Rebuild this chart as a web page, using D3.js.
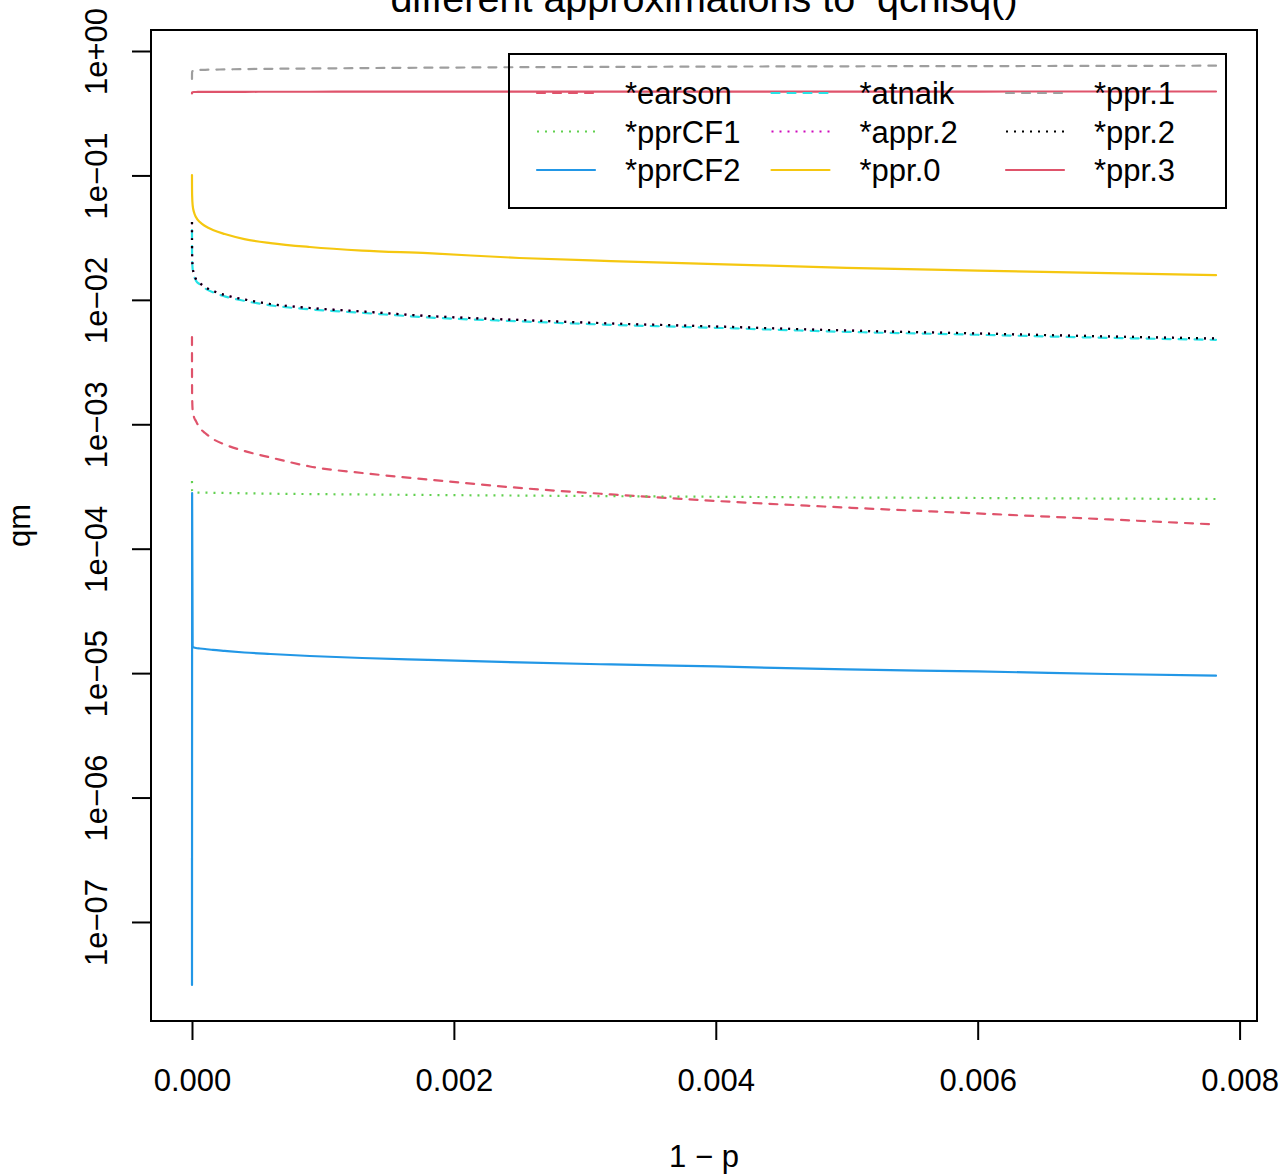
<!DOCTYPE html>
<html>
<head>
<meta charset="utf-8">
<script src="https://cdn.jsdelivr.net/npm/d3@7"></script>
<style>
  body { margin: 0; background: #fff; }
  svg { display: block; }
  text { font-family: "Liberation Sans", Arial, Helvetica, sans-serif; fill: #000; }
</style>
</head>
<body>
<div id="chart"></div>
<script>
// x values (1 - p)
const oneMinusP = [0, 2e-7, 1e-6, 5e-6, 1.5e-5, 3e-5, 6e-5, 1e-4, 1.6e-4, 2.5e-4, 4e-4, 6e-4, 9e-4,
    1.3e-3, 1.8e-3, 2.5e-3, 3.2e-3, 4e-3, 5e-3, 6e-3, 7e-3, 7.82e-3];

// qm for each approximation
const pearson = [0.00503, 0.00273, 0.00172, 0.001303, 0.001144, 0.001063, 0.000933, 0.000851, 0.000762,
    0.000688, 0.000610, 0.000541, 0.000458, 0.000406, 0.000360, 0.000308, 0.000273, 0.000242, 0.000214,
    0.000192, 0.000172, 0.0001565];
const pprCF1 = [3.50e-4, 3.08e-4, 2.91e-4, 2.856e-4, 2.841e-4, 2.830e-4, 2.825e-4, 2.820e-4, 2.815e-4,
    2.804e-4, 2.788e-4, 2.768e-4, 2.748e-4, 2.728e-4, 2.702e-4, 2.673e-4, 2.643e-4, 2.614e-4, 2.580e-4,
    2.556e-4, 2.528e-4, 2.509e-4];
const pprCF2 = [3.27e-7, 3.12e-8, 2.80e-4, 1.622e-5, 1.607e-5, 1.592e-5, 1.577e-5, 1.563e-5, 1.535e-5,
    1.507e-5, 1.465e-5, 1.425e-5, 1.373e-5, 1.323e-5, 1.276e-5, 1.218e-5, 1.174e-5, 1.131e-5, 1.070e-5,
    1.031e-5, 0.984e-5, 0.954e-5];
const patnaik = [0.0364, 0.0276, 0.0217, 0.0177, 0.0157, 0.01433, 0.01332, 0.01237, 0.01149, 0.01067,
    0.00982, 0.00903, 0.00839, 0.00786, 0.00723, 0.00672, 0.00630, 0.00596, 0.00553, 0.00524, 0.00495, 0.00477];
const appr2 = [0.0422, 0.0303, 0.0229, 0.0184, 0.0161, 0.0147, 0.01366, 0.01269, 0.01178, 0.01094,
    0.01007, 0.00926, 0.00860, 0.00806, 0.00742, 0.00689, 0.00646, 0.00611, 0.00567, 0.00537, 0.00508, 0.00489];
const ppr0 = [0.1008, 0.0838, 0.0696, 0.0578, 0.0508, 0.0463, 0.0422, 0.0392, 0.0364, 0.0338, 0.0308,
    0.0286, 0.0266, 0.0249, 0.0237, 0.0217, 0.0205, 0.0194, 0.0181, 0.0172, 0.0164, 0.0158];
const ppr1 = [0.5957, 0.6413, 0.6780, 0.6907, 0.6971, 0.7010, 0.7036, 0.7062, 0.7088, 0.7114, 0.7154,
    0.7193, 0.7235, 0.7288, 0.7342, 0.7410, 0.7452, 0.7493, 0.7535, 0.7563, 0.7592, 0.7620];
const ppr2 = [0.0422, 0.0303, 0.0229, 0.0184, 0.0161, 0.0147, 0.01366, 0.01269, 0.01178, 0.01094,
    0.01007, 0.00926, 0.00860, 0.00806, 0.00742, 0.00689, 0.00646, 0.00611, 0.00567, 0.00537, 0.00508, 0.00489];
const ppr3 = [0.4555, 0.4597, 0.4640, 0.4666, 0.4683, 0.4683, 0.4690, 0.4690, 0.4695, 0.4700, 0.4700,
    0.4705, 0.4705, 0.4710, 0.4710, 0.4715, 0.4718, 0.4720, 0.4722, 0.4724, 0.4726, 0.4727];

const seriesNames = ["*earson", "*pprCF1", "*pprCF2", "*atnaik", "*appr.2", "*ppr.0", "*ppr.1", "*ppr.2", "*ppr.3"];
const seriesValues = [pearson, pprCF1, pprCF2, patnaik, appr2, ppr0, ppr1, ppr2, ppr3];
const seriesColors = ["#DF536B", "#61D04F", "#2297E6", "#28E2E5", "#CD0BBC", "#F5C710", "#9E9E9E", "#000000", "#DF536B"];
const seriesLty = ["dashed", "dotted", "solid", "dashed", "dotted", "solid", "dashed", "dotted", "solid"];

const xTicks = [0, 0.002, 0.004, 0.006, 0.008];
const yTicks = [1, 1e-1, 1e-2, 1e-3, 1e-4, 1e-5, 1e-6, 1e-7];
const yTickLabels = ["1e+00", "1e\u221201", "1e\u221202", "1e\u221203", "1e\u221204", "1e\u221205", "1e\u221206", "1e\u221207"];

const width = 1284, height = 1176;
const plot = {left: 151, right: 1257, top: 30, bottom: 1021};

const svg = d3.select("#chart")
    .append("svg")
    .attr("width", width)
    .attr("height", height);

const x = d3.scaleLinear()
    .domain([-0.000313, 0.008133])
    .range([plot.left, plot.right]);
const y = d3.scaleLog()
    .domain([1.6e-8, 1.475])
    .range([plot.bottom, plot.top]);

const dash = {solid: null, dashed: "8,8", dotted: "2,6"};
const cap = {solid: "round", dashed: "round", dotted: "butt"};

// clip to the plot region
svg.append("clipPath").attr("id", "clip")
    .append("rect")
    .attr("x", plot.left).attr("y", plot.top)
    .attr("width", plot.right - plot.left).attr("height", plot.bottom - plot.top);

const line = d3.line()
    .x((d, i) => x(oneMinusP[i]))
    .y(d => y(d))
    .curve(d3.curveMonotoneX);

svg.append("g")
    .attr("clip-path", "url(#clip)")
    .selectAll("path")
    .data(seriesValues)
    .enter().append("path")
    .attr("d", d => line(d))
    .attr("fill", "none")
    .attr("stroke", (d, i) => seriesColors[i])
    .attr("stroke-width", 2.2)
    .attr("stroke-linecap", (d, i) => cap[seriesLty[i]])
    .attr("stroke-linejoin", "round")
    .attr("stroke-dasharray", (d, i) => dash[seriesLty[i]]);

// x axis
const xAxis = svg.append("g")
    .attr("transform", `translate(0,${plot.bottom})`)
    .call(d3.axisBottom(x).tickValues(xTicks).tickFormat(d3.format(".3f")).tickSize(19));
xAxis.select(".domain").remove();
xAxis.selectAll("line").attr("stroke", "#000").attr("stroke-width", 2);
xAxis.selectAll("text")
    .attr("y", 70).attr("dy", 0)
    .style("font-size", "31px")
    .style("font-family", "'Liberation Sans', Arial, sans-serif");

// y axis
const yAxis = svg.append("g")
    .attr("transform", `translate(${plot.left},0)`)
    .call(d3.axisLeft(y).tickValues(yTicks).tickFormat((d, i) => yTickLabels[i]).tickSize(19));
yAxis.select(".domain").remove();
yAxis.selectAll("line").attr("stroke", "#000").attr("stroke-width", 2);
yAxis.selectAll("text")
    .attr("x", 0).attr("y", 0).attr("dy", 0)
    .attr("text-anchor", "middle")
    .attr("transform", "translate(-44,0) rotate(-90)")
    .style("font-size", "31px")
    .style("font-family", "'Liberation Sans', Arial, sans-serif");

// box
svg.append("rect")
    .attr("x", plot.left).attr("y", plot.top)
    .attr("width", plot.right - plot.left).attr("height", plot.bottom - plot.top)
    .attr("fill", "none").attr("stroke", "#000").attr("stroke-width", 2);

// titles
const midX = (plot.left + plot.right) / 2;
svg.append("text")
    .attr("x", midX).attr("y", 12)
    .attr("text-anchor", "middle")
    .style("font-size", "39.5px")
    .style("white-space", "pre")
    .text("different approximations to  qchisq()");
svg.append("text")
    .attr("x", midX).attr("y", 1167)
    .attr("text-anchor", "middle")
    .style("font-size", "31px")
    .text("1 \u2212 p");
svg.append("text")
    .attr("transform", `translate(30,${(plot.top + plot.bottom) / 2}) rotate(-90)`)
    .attr("text-anchor", "middle")
    .style("font-size", "31px")
    .text("qm");

// legend, filled column by column
const legend = {left: 509, top: 54, width: 717, height: 154, colStep: 234.5};
const rowY = [93, 131.5, 170];
svg.append("rect")
    .attr("x", legend.left).attr("y", legend.top)
    .attr("width", legend.width).attr("height", legend.height)
    .attr("fill", "none").attr("stroke", "#000").attr("stroke-width", 2);

const items = svg.append("g")
    .selectAll("g")
    .data(seriesNames)
    .enter().append("g")
    .attr("transform", (d, i) => `translate(${legend.left + Math.floor(i / 3) * legend.colStep},${rowY[i % 3]})`);
items.append("line")
    .attr("x1", 28).attr("x2", 86)
    .attr("stroke", (d, i) => seriesColors[i])
    .attr("stroke-width", 2.2)
    .attr("stroke-linecap", (d, i) => cap[seriesLty[i]])
    .attr("stroke-dasharray", (d, i) => dash[seriesLty[i]]);
items.append("text")
    .attr("x", 116).attr("y", 11)
    .style("font-size", "31px")
    .text(d => d);
</script>
</body>
</html>
